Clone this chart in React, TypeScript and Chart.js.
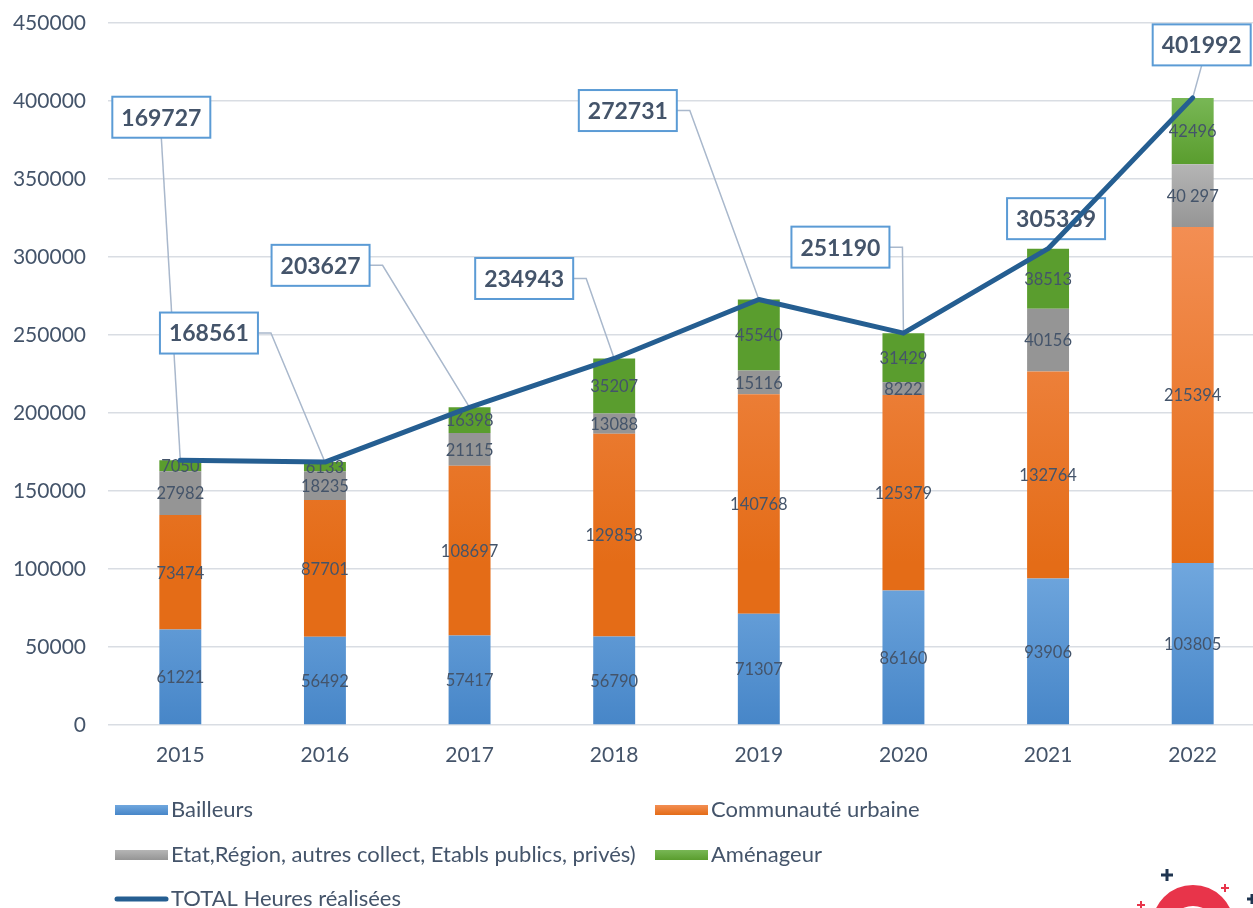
import React, { useEffect, useRef } from "react";
import { Chart, registerables } from "chart.js";

Chart.register(...registerables);

const years = ["2015", "2016", "2017", "2018", "2019", "2020", "2021", "2022"];
const bailleurs = [61221, 56492, 57417, 56790, 71307, 86160, 93906, 103805];
const communaute = [73474, 87701, 108697, 129858, 140768, 125379, 132764, 215394];
const etat = [27982, 18235, 21115, 13088, 15116, 8222, 40156, 40297];
const amenageur = [7050, 6133, 16398, 35207, 45540, 31429, 38513, 42496];
const totals = [169727, 168561, 203627, 234943, 272731, 251190, 305339, 401992];
const etatLabels = ["27982", "18235", "21115", "13088", "15116", "8222", "40156", "40 297"];
const yTicks = [0, 50000, 100000, 150000, 200000, 250000, 300000, 350000, 400000, 450000];

// callout offsets (px) of the total labels relative to their points
const calloutDx = [-19, -116, -149, -90, -131, -63, 8, 9];
const calloutDy = [-343, -129, -142, -80, -189, -86, -30, -53];

const seriesNames = [
  "Bailleurs",
  "Communauté urbaine",
  "Etat,Région, autres collect, Etabls publics, privés)",
  "Aménageur",
];
const lineName = "TOTAL Heures réalisées";

const gradTop = ["#70A7DE", "#F38E53", "#B5B5B5", "#78B755"];
const gradBottom = ["#4786C8", "#E46C17", "#959595", "#5A9D2E"];
const lineColor = "#255E91";
const textColor = "#44546A";
const FONT = "Lato, 'Open Sans', sans-serif";

const gradientPlugin = {
  id: "barGradients",
  beforeDatasetsDraw(chart: any) {
    const ctx = chart.ctx;
    for (let d = 0; d < 4; d++) {
      const meta = chart.getDatasetMeta(d);
      meta.data.forEach((el: any) => {
        const top = Math.min(el.y, el.base);
        const bot = Math.max(el.y, el.base);
        if (bot - top < 0.5) return;
        const g = ctx.createLinearGradient(0, top, 0, bot);
        g.addColorStop(0, gradTop[d]);
        g.addColorStop(1, gradBottom[d]);
        el.options.backgroundColor = g;
      });
    }
  },
};

const labelsPlugin = {
  id: "customLabels",
  beforeDatasetDraw(chart: any, args: any) {
    if (args.index !== 4) return;
    const ctx = chart.ctx;
    ctx.save();
    ctx.font = `16.5px ${FONT}`;
    ctx.fillStyle = textColor;
    ctx.textAlign = "center";
    ctx.textBaseline = "middle";
    const labelSets = [
      bailleurs.map(String),
      communaute.map(String),
      etatLabels,
      amenageur.map(String),
    ];
    for (let d = 0; d < 4; d++) {
      const meta = chart.getDatasetMeta(d);
      meta.data.forEach((el: any, i: number) => {
        const cy = (el.y + el.base) / 2;
        ctx.fillText(labelSets[d][i], el.x, cy + 1);
      });
    }
    const lineMeta = chart.getDatasetMeta(4);
    const bw = 98;
    const bh = 41;
    lineMeta.data.forEach((pt: any, i: number) => {
      const cx = pt.x + calloutDx[i];
      const cy = pt.y + calloutDy[i];
      const left = cx - bw / 2;
      const right = cx + bw / 2;
      const bottom = cy + bh / 2;
      ctx.strokeStyle = "#A9B8CC";
      ctx.lineWidth = 1.5;
      ctx.beginPath();
      if (pt.x >= left && pt.x <= right) {
        ctx.moveTo(cx, bottom);
        ctx.lineTo(pt.x, pt.y);
      } else {
        ctx.moveTo(right, cy);
        ctx.lineTo(right + 13, cy);
        ctx.lineTo(pt.x, pt.y);
      }
      ctx.stroke();
    });
    lineMeta.data.forEach((pt: any, i: number) => {
      const cx = pt.x + calloutDx[i];
      const cy = pt.y + calloutDy[i];
      ctx.fillStyle = "#FFFFFF";
      ctx.fillRect(cx - bw / 2, cy - bh / 2, bw, bh);
      ctx.strokeStyle = "#5B9BD5";
      ctx.lineWidth = 2;
      ctx.strokeRect(cx - bw / 2, cy - bh / 2, bw, bh);
      ctx.fillStyle = textColor;
      ctx.font = `bold 23px ${FONT}`;
      ctx.textAlign = "center";
      ctx.textBaseline = "middle";
      ctx.fillText(String(totals[i]), cx, cy + 1);
    });
    ctx.restore();
  },
};

const legendPlugin = {
  id: "customLegend",
  afterDraw(chart: any) {
    const ctx = chart.ctx;
    ctx.save();
    ctx.font = `22px ${FONT}`;
    ctx.textBaseline = "middle";
    ctx.textAlign = "left";
    const items = [
      { x: 115, y: 810, idx: 0 },
      { x: 655, y: 810, idx: 1 },
      { x: 115, y: 855, idx: 2 },
      { x: 655, y: 855, idx: 3 },
    ];
    items.forEach((it) => {
      const g = ctx.createLinearGradient(0, it.y - 5, 0, it.y + 5);
      g.addColorStop(0, gradTop[it.idx]);
      g.addColorStop(1, gradBottom[it.idx]);
      ctx.fillStyle = g;
      ctx.fillRect(it.x, it.y - 5, 53, 10);
      ctx.fillStyle = textColor;
      ctx.fillText(seriesNames[it.idx], it.x + 56, it.y);
    });
    ctx.strokeStyle = lineColor;
    ctx.lineWidth = 5;
    ctx.lineCap = "round";
    ctx.beginPath();
    ctx.moveTo(117, 899);
    ctx.lineTo(166, 899);
    ctx.stroke();
    ctx.fillStyle = textColor;
    ctx.fillText(lineName, 171, 899);

    // decorative logo fragment, bottom right
    ctx.fillStyle = "#E8344A";
    ctx.beginPath();
    ctx.arc(1193, 926, 41, 0, Math.PI * 2);
    ctx.fill();
    ctx.fillStyle = "#FFFFFF";
    ctx.beginPath();
    ctx.arc(1193, 930, 24, 0, Math.PI * 2);
    ctx.fill();
    const plus = (x: number, y: number, s: number, c: string, w: number) => {
      ctx.strokeStyle = c;
      ctx.lineWidth = w;
      ctx.lineCap = "butt";
      ctx.beginPath();
      ctx.moveTo(x - s, y);
      ctx.lineTo(x + s, y);
      ctx.moveTo(x, y - s);
      ctx.lineTo(x, y + s);
      ctx.stroke();
    };
    plus(1167, 875, 6, "#1F3550", 3);
    plus(1225, 888, 4, "#E8344A", 2);
    plus(1141, 905, 4, "#E8344A", 2);
    plus(1252, 899, 5, "#1F3550", 3);
    ctx.restore();
  },
};

export default function App() {
  const ref = useRef<HTMLCanvasElement | null>(null);
  useEffect(() => {
    if (!ref.current) return;
    const chart = new Chart(ref.current, {
      type: "bar",
      data: {
        labels: years,
        datasets: [
          { label: seriesNames[0], data: bailleurs, backgroundColor: gradBottom[0], order: 1, stack: "s" },
          { label: seriesNames[1], data: communaute, backgroundColor: gradBottom[1], order: 1, stack: "s" },
          { label: seriesNames[2], data: etat, backgroundColor: gradBottom[2], order: 1, stack: "s" },
          { label: seriesNames[3], data: amenageur, backgroundColor: gradBottom[3], order: 1, stack: "s" },
          {
            type: "line",
            label: lineName,
            data: totals,
            borderColor: lineColor,
            backgroundColor: lineColor,
            borderWidth: 5,
            pointRadius: 0,
            tension: 0,
            order: 0,
            borderCapStyle: "round",
            borderJoinStyle: "round",
          } as any,
        ],
      },
      options: {
        animation: false,
        responsive: false,
        maintainAspectRatio: false,
        datasets: { bar: { barPercentage: 0.29, categoryPercentage: 1 } },
        layout: { padding: { top: 23, bottom: 140, left: 0, right: 1 } },
        plugins: { legend: { display: false }, tooltip: { enabled: false } },
        scales: {
          x: {
            stacked: true,
            grid: { display: false, drawTicks: false },
            border: { display: false },
            ticks: { color: textColor, font: { family: FONT, size: 21 }, padding: 18 },
            afterFit: (s: any) => {
              s.height = 43;
            },
          },
          y: {
            stacked: true,
            min: 0,
            max: 450000,
            afterBuildTicks: (s: any) => {
              s.ticks = yTicks.map((v) => ({ value: v }));
            },
            grid: { color: "#D9DDE3", lineWidth: 1.5, drawTicks: false },
            border: { display: false },
            ticks: {
              color: textColor,
              font: { family: FONT, size: 21 },
              padding: 22,
              callback: (v: any) => String(v),
            },
            afterFit: (s: any) => {
              s.width = 108;
              s.paddingTop = 0;
              s.paddingBottom = 0;
            },
          },
        },
      },
      plugins: [gradientPlugin, labelsPlugin, legendPlugin],
    });
    return () => chart.destroy();
  }, []);
  return (
    <div
      style={{
        position: "fixed",
        left: 0,
        top: 0,
        width: 1253,
        height: 908,
        overflow: "hidden",
        background: "#fff",
      }}
    >
      <canvas ref={ref} width={1266} height={908} style={{ display: "block" }} />
    </div>
  );
}
